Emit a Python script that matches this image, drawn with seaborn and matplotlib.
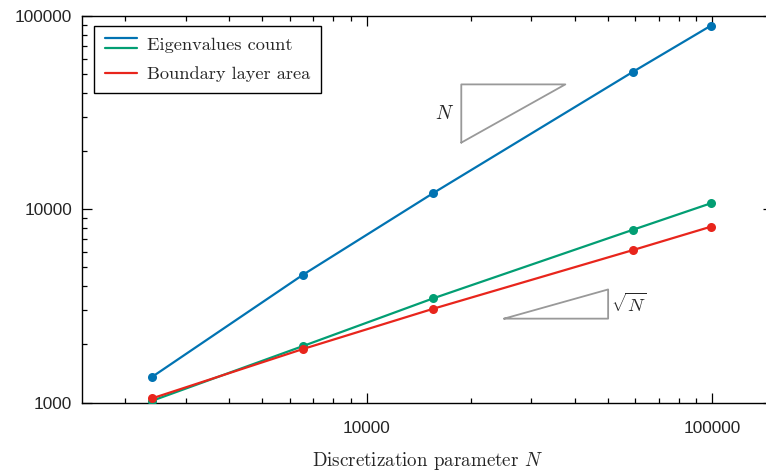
import numpy as np
import pandas as pd
import seaborn as sns
import matplotlib
matplotlib.use("Agg")
import matplotlib.pyplot as plt
from matplotlib.lines import Line2D
from matplotlib.legend_handler import HandlerBase
from matplotlib.ticker import LogLocator, FuncFormatter, NullFormatter

# Discretization parameter values
N_values = [2400, 6550, 15600, 59000, 99000]
# Measured quantities per discretization
eigen_count = [1362, 4586, 12125, 51340, 88780]
eigen_count_2 = [1024, 1963, 3464, 7834, 10728]
boundary_area = [1054, 1895, 3060, 6152, 8120]

series_names = ["Eigenvalues count", "Eigenvalues count (2)", "Boundary layer area"]
series_colors = ["#0173B2", "#029E73", "#E8251C"]

# Slope guides: (x_start, x_end, y_at_start, y_at_end)
slope_N = (18800, 37600, 22100, 44200)
slope_sqrtN = (25000, 50000, 2720, 3850)

sns.set_theme(style="ticks")
plt.rcParams["mathtext.fontset"] = "cm"
plt.rcParams["font.family"] = ["Liberation Sans", "DejaVu Sans"]

df = pd.DataFrame({
    "N": N_values * 3,
    "value": eigen_count + eigen_count_2 + boundary_area,
    "series": sum([[s] * len(N_values) for s in series_names], []),
})

fig = plt.figure(figsize=(7.66, 4.73), dpi=100)
ax = fig.add_axes([0.1067, 0.1486, 0.9025, 0.818])

sns.lineplot(data=df, x="N", y="value", hue="series", hue_order=series_names,
             palette=series_colors, marker="o", markersize=6.5, markeredgewidth=0,
             linewidth=1.6, legend=False, ax=ax, zorder=3)

ax.set_xscale("log")
ax.set_yscale("log")
ax.set_xlim(1500, 150000)
ax.set_ylim(1000, 100000)

for sp in ax.spines.values():
    sp.set_linewidth(1.0)
    sp.set_color("black")

ax.xaxis.set_major_locator(LogLocator(base=10))
ax.yaxis.set_major_locator(LogLocator(base=10))
ax.xaxis.set_minor_locator(LogLocator(base=10, subs=np.arange(2, 10)))
ax.yaxis.set_minor_locator(LogLocator(base=10, subs=np.arange(2, 10)))
fmt = FuncFormatter(lambda v, p: f"{int(round(v))}")
ax.xaxis.set_major_formatter(fmt)
ax.yaxis.set_major_formatter(fmt)
ax.xaxis.set_minor_formatter(NullFormatter())
ax.yaxis.set_minor_formatter(NullFormatter())

ax.tick_params(which="both", direction="in", top=True, right=True, color="black", width=0.9)
ax.tick_params(which="major", length=7, labelsize=12.4)
ax.tick_params(which="minor", length=3.5)
ax.tick_params(axis="x", which="major", pad=13.5)
ax.tick_params(axis="y", which="major", pad=7)

ax.set_xlabel(r"Discretization parameter $N$", fontfamily="cmr10", fontsize=13.7, labelpad=10)
ax.set_ylabel("")

# Slope guide triangles
gray = "#999999"
x0, x1, y0, y1 = slope_N
ax.plot([x0, x1, x0, x0], [y0, y1, y1, y0], color=gray, lw=1.3, zorder=2)
ax.text(x0 * 0.955, np.sqrt(y0 * y1), r"$N$", ha="right", va="center", fontsize=14)
x0, x1, y0, y1 = slope_sqrtN
ax.plot([x0, x1, x1, x0], [y0, y0, y1, y0], color=gray, lw=1.3, zorder=2)
ax.text(x1 * 1.02, np.sqrt(y0 * y1), r"$\sqrt{N}$", ha="left", va="center", fontsize=13.5)


class StackedLines(HandlerBase):
    def create_artists(self, legend, orig_handle, xdescent, ydescent,
                       width, height, fontsize, trans):
        cols = orig_handle
        n = len(cols)
        sep = 7.4
        mid = height / 2 - ydescent
        arts = []
        for i, c in enumerate(cols):
            y = mid + (n - 1) * sep / 2 - i * sep
            ln = Line2D([-xdescent, -xdescent + width], [y, y], color=c, lw=1.6,
                        transform=trans)
            arts.append(ln)
        return arts


class LineGroup(tuple):
    pass


h1 = LineGroup(series_colors[:2])
h2 = LineGroup(series_colors[2:])
leg = ax.legend([h1, h2], [series_names[0], series_names[2]],
                handler_map={LineGroup: StackedLines()},
                loc="upper left", bbox_to_anchor=(0.0178, 0.974), borderaxespad=0,
                prop={"family": "cmr10", "size": 13.2}, frameon=True, fancybox=False,
                edgecolor="black", framealpha=1, handlelength=1.75, handletextpad=0.55,
                labelspacing=0.75, borderpad=0.6)
leg.get_frame().set_linewidth(1.0)

fig.savefig("out.png", dpi=100)
